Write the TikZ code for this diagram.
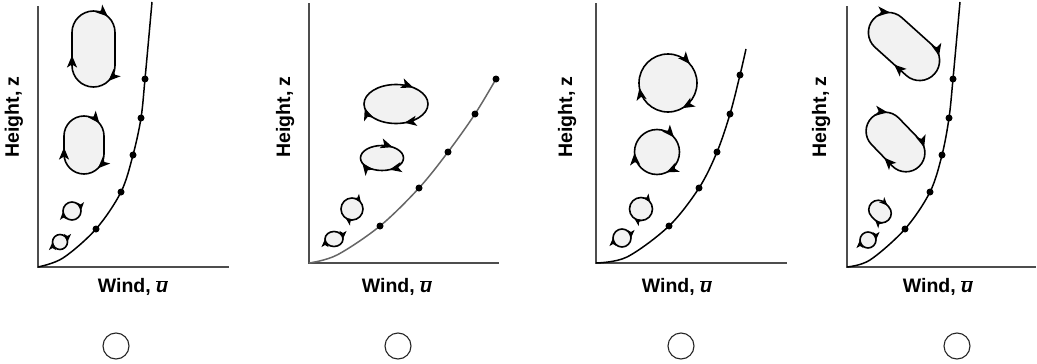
\documentclass[tikz,border=0pt]{standalone}
\usepackage{fontspec}
\setmainfont{Liberation Sans}
\usetikzlibrary{arrows.meta,decorations.markings}
\definecolor{eddyfill}{HTML}{F2F2F2}
\definecolor{axisgray}{HTML}{4D4D4D}
\tikzset{
  axisline/.style={draw=axisgray,line width=1.3pt},
  profile/.style={draw=black,line width=1.5pt},
  profilegray/.style={draw=black!60,line width=1.5pt},
  dot/.style={circle,fill=black,inner sep=0pt,minimum size=7pt},
  eddy/.style={draw=black,line width=1.6pt,fill=eddyfill},
  arr/.style={postaction={decorate,decoration={markings,mark=at position #1 with {\arrow{Stealth[length=12pt,width=10pt,inset=3pt]}}}}},
  sarr/.style={postaction={decorate,decoration={markings,mark=at position #1 with {\arrow{Stealth[length=8pt,width=7pt,inset=2pt]}}}}},
  lab/.style={font=\fontsize{19.5}{22}\selectfont\bfseries,inner sep=0pt},
  choice/.style={circle,draw=black!85,line width=1.1pt,minimum size=26pt,inner sep=0pt},
}
\newcommand\ubar{$\overline{\mbox{\itshape u}}$}
% cx, cy, radius a, half length h, rotation, options
\newcommand\eddystadium[6]{\draw[eddy,#6,shift={(#1,#2)},rotate=#5] ({-#4},{-#3}) -- ({#4},{-#3}) arc[start angle=270,end angle=450,radius=#3] -- ({-#4},{#3}) arc[start angle=90,end angle=270,radius=#3] -- cycle;}
% cx, cy, rx, ry, options
\newcommand\eddyoval[5]{\draw[eddy,#5] ({#1},{#2-#4}) arc[start angle=270,end angle=630,x radius=#3,y radius=#4] -- cycle;}
\begin{document}
\begin{tikzpicture}[x=1pt,y=1pt,yscale=-1]
\useasboundingbox (0,0) rectangle (1037,364);

% ---------- Panel 1 ----------
\coordinate (y1) at (38,6); \coordinate (o1) at (38,267); \coordinate (x1) at (229,267);
\draw[axisline] (y1) -- (o1) -- (x1);
\coordinate (q1) at (63,258); \coordinate (t1) at (152,2);
\coordinate (a1) at (96,229); \coordinate (b1) at (121,192); \coordinate (c1) at (133,155);
\coordinate (d1) at (141,118); \coordinate (e1) at (145,79);
\draw[profile] plot[smooth,tension=0.55] coordinates {(o1) (q1) (a1) (b1) (c1) (d1) (e1) (t1)};
\foreach \p in {a1,b1,c1,d1,e1} \node[dot] (dot-\p) at (\p) {};
\eddystadium{93.5}{49}{21.5}{16.5}{90}{arr=0.25,arr=0.55,arr=0.91}
\eddystadium{84}{145}{20}{9}{90}{arr=0.21,arr=0.54,arr=0.915}
\eddyoval{72}{211}{9}{9}{sarr=0.24,sarr=0.74}
\eddyoval{60}{242}{7.5}{7.5}{sarr=0.25,sarr=0.75}
\node[lab,rotate=90] (h1) at (14,117) {Height, z};
\node[lab] (w1) at (133,287) {Wind, \ubar};
\node[choice] (c-1) at (116,346) {};

% ---------- Panel 2 ----------
\coordinate (y2) at (309,3); \coordinate (o2) at (309,263); \coordinate (x2) at (499,263);
\draw[axisline] (y2) -- (o2) -- (x2);
\coordinate (q2) at (337,255);
\coordinate (a2) at (380,226); \coordinate (b2) at (419,188); \coordinate (c2) at (448,152);
\coordinate (d2) at (475,114); \coordinate (e2) at (496,79);
\draw[profilegray] plot[smooth,tension=0.55] coordinates {(o2) (q2) (a2) (b2) (c2) (d2) (e2)};
\foreach \p in {a2,b2,c2,d2,e2} \node[dot] (dot-\p) at (\p) {};
\eddyoval{396}{104}{32}{19.5}{arr=0.107,arr=0.448,arr=0.724}
\eddyoval{382}{158}{21.5}{12.5}{arr=0.10,arr=0.43,arr=0.70}
\eddyoval{352}{209}{11}{11}{sarr=0.15,sarr=0.6}
\eddyoval{334}{239}{9}{7.5}{sarr=0.25,sarr=0.75}
\node[lab,rotate=90] (h2) at (285,117) {Height, z};
\node[lab] (w2) at (397,287) {Wind, \ubar};
\node[choice] (c-2) at (398,346) {};

% ---------- Panel 3 ----------
\coordinate (y3) at (596,3); \coordinate (o3) at (596,263); \coordinate (x3) at (787,263);
\draw[axisline] (y3) -- (o3) -- (x3);
\coordinate (q3) at (627,257); \coordinate (t3) at (746,49);
\coordinate (a3) at (669,226); \coordinate (b3) at (699,188); \coordinate (c3) at (717,152);
\coordinate (d3) at (730,114); \coordinate (e3) at (740,75);
\draw[profile] plot[smooth,tension=0.55] coordinates {(o3) (q3) (a3) (b3) (c3) (d3) (e3) (t3)};
\foreach \p in {a3,b3,c3,d3,e3} \node[dot] (dot-\p) at (\p) {};
\eddyoval{668}{83}{29}{29}{arr=0.136,arr=0.417,arr=0.722}
\eddyoval{657}{152}{22.5}{22.5}{arr=0.136,arr=0.43,arr=0.742}
\eddyoval{641}{209}{11.5}{11.5}{sarr=0.15,sarr=0.6}
\eddyoval{622}{238}{9}{9}{sarr=0.25,sarr=0.75}
\node[lab,rotate=90] (h3) at (567,117) {Height, z};
\node[lab] (w3) at (677,287) {Wind, \ubar};
\node[choice] (c-3) at (681,346) {};

% ---------- Panel 4 ----------
\coordinate (y4) at (847,6); \coordinate (o4) at (847,267); \coordinate (x4) at (1036,267);
\draw[axisline] (y4) -- (o4) -- (x4);
\coordinate (q4) at (870,260); \coordinate (t4) at (960,2);
\coordinate (a4) at (905,229); \coordinate (b4) at (930,192); \coordinate (c4) at (942,155);
\coordinate (d4) at (949,118); \coordinate (e4) at (953,79);
\draw[profile] plot[smooth,tension=0.55] coordinates {(o4) (q4) (a4) (b4) (c4) (d4) (e4) (t4)};
\foreach \p in {a4,b4,c4,d4,e4} \node[dot] (dot-\p) at (\p) {};
\eddystadium{904}{46.5}{20}{21}{42}{arr=0.258,arr=0.577,arr=0.938}
\eddystadium{895.5}{142}{19}{15}{46}{arr=0.218,arr=0.564,arr=0.929}
\eddystadium{880}{211.5}{9.5}{2.5}{45}{sarr=0.05,sarr=0.5}
\eddyoval{868}{240}{8}{8}{sarr=0.25,sarr=0.75}
\node[lab,rotate=90] (h4) at (821,117) {Height, z};
\node[lab] (w4) at (938,287) {Wind, \ubar};
\node[choice] (c-4) at (957,346) {};
\end{tikzpicture}
\end{document}
